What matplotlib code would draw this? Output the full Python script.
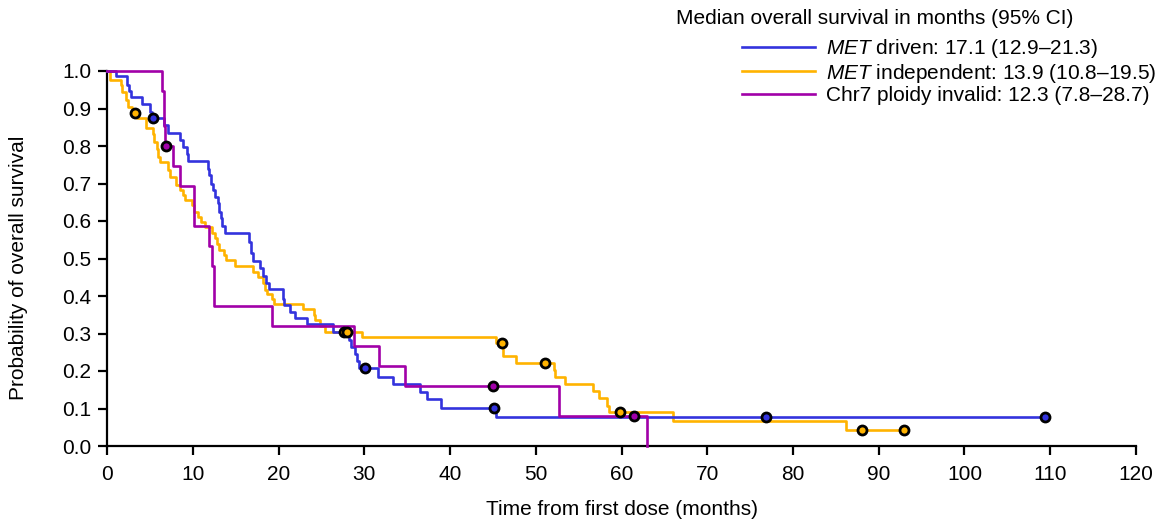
import matplotlib
matplotlib.use('Agg')
import matplotlib.pyplot as plt
from matplotlib.lines import Line2D

plt.rcParams['font.family'] = ['Liberation Sans', 'DejaVu Sans']
plt.rcParams['mathtext.fontset'] = 'custom'
plt.rcParams['mathtext.it'] = 'Liberation Sans:italic'
plt.rcParams['mathtext.rm'] = 'Liberation Sans'

# Kaplan-Meier steps (months, survival)
blue_t = [0, 1.0, 2.3, 2.55, 2.75, 4.05, 5.0, 5.3, 6.6, 7.1, 8.5, 8.9, 9.3, 9.4,
          11.74, 11.93, 12.13, 12.4, 12.6, 12.9, 13.1, 13.26, 13.4, 13.76, 16.6,
          16.8, 17.06, 17.8, 18.2, 18.5, 18.9, 20.5, 20.6, 21.3, 21.9, 23.3, 26.4,
          28.2, 28.5, 28.9, 29.2, 29.4, 31.6, 33.3, 36.5, 37.3, 39.0, 45.4, 109.4]
blue_s = [1.0, 0.987, 0.963, 0.948, 0.932, 0.912, 0.892, 0.874, 0.856, 0.836, 0.816,
          0.797, 0.78, 0.76, 0.739, 0.723, 0.70, 0.683, 0.665, 0.648, 0.625, 0.608,
          0.587, 0.569, 0.545, 0.514, 0.494, 0.475, 0.453, 0.434, 0.418, 0.392,
          0.376, 0.358, 0.341, 0.325, 0.305, 0.283, 0.265, 0.245, 0.227, 0.207,
          0.185, 0.165, 0.145, 0.125, 0.102, 0.078, 0.078]
blue_cens_t = [5.4, 30.1, 45.1, 76.8, 109.4]
blue_cens_s = [0.874, 0.207, 0.102, 0.078, 0.078]

yellow_t = [0, 0.35, 1.6, 1.7, 2.2, 2.5, 2.9, 3.5, 4.5, 5.4, 5.5, 5.8, 6.0, 6.2,
            7.15, 7.35, 8.1, 8.5, 8.9, 9.1, 9.9, 10.15, 10.65, 11.0, 11.4, 12.2,
            12.6, 12.8, 13.1, 13.6, 13.9, 14.9, 17.0, 17.6, 18.2, 18.4, 18.7, 19.3,
            19.5, 22.9, 24.1, 24.3, 24.8, 25.4, 29.7, 45.4, 46.2, 47.7, 52.1, 52.3,
            53.4, 56.7, 57.4, 58.35, 58.6, 66.0, 86.2, 92.9]
yellow_s = [1.0, 0.976, 0.963, 0.945, 0.923, 0.905, 0.889, 0.876, 0.847, 0.833,
            0.81, 0.793, 0.77, 0.758, 0.736, 0.718, 0.696, 0.683, 0.67, 0.656, 0.643,
            0.625, 0.611, 0.598, 0.585, 0.569, 0.554, 0.538, 0.523, 0.509, 0.496,
            0.48, 0.465, 0.451, 0.434, 0.416, 0.405, 0.392, 0.379, 0.365, 0.349,
            0.336, 0.32, 0.305, 0.29, 0.274, 0.241, 0.222, 0.204, 0.183, 0.165,
            0.147, 0.127, 0.107, 0.09, 0.068, 0.043, 0.043]
yellow_cens_t = [3.3, 27.6, 28.0, 46.1, 51.1, 59.8, 88.0, 92.9]
yellow_cens_s = [0.889, 0.305, 0.305, 0.274, 0.222, 0.09, 0.043, 0.043]

purple_t = [0, 6.4, 6.6, 6.75, 7.7, 8.5, 10.1, 11.9, 12.3, 12.5, 19.2, 28.8, 31.7,
            34.7, 52.7, 63.0]
purple_s = [1.0, 0.947, 0.853, 0.80, 0.747, 0.694, 0.587, 0.533, 0.48, 0.373, 0.32,
            0.267, 0.213, 0.16, 0.08, 0.0]
purple_cens_t = [6.9, 45.0, 61.4]
purple_cens_s = [0.80, 0.16, 0.08]

labels = [r'$\it{MET}$ driven: 17.1 (12.9–21.3)',
          r'$\it{MET}$ independent: 13.9 (10.8–19.5)',
          'Chr7 ploidy invalid: 12.3 (7.8–28.7)']
colors = ['#3333dd', '#ffb300', '#a100a8']

fig = plt.figure(figsize=(11.65, 5.22), dpi=100)
ax = fig.add_axes([107 / 1165, 1 - 446 / 522, (1136 - 107) / 1165, (446 - 71) / 522])

ax.step(yellow_t, yellow_s, where='post', color=colors[1], lw=1.9, clip_on=False, zorder=2)
ax.step(blue_t, blue_s, where='post', color=colors[0], lw=1.9, clip_on=False, zorder=3)
ax.step(purple_t, purple_s, where='post', color=colors[2], lw=1.9, clip_on=False, zorder=4)

for ct, cs, c in [(blue_cens_t, blue_cens_s, colors[0]),
                  (yellow_cens_t, yellow_cens_s, colors[1]),
                  (purple_cens_t, purple_cens_s, colors[2])]:
    ax.plot(ct, cs, 'o', ms=6.5, mfc=c, mec='black', mew=2.0, ls='none', zorder=5, clip_on=False)

ax.set_xlim(0, 120)
ax.set_ylim(0, 1.0)
ax.set_xticks(range(0, 121, 10))
ax.set_yticks([i / 10 for i in range(11)])
ax.set_yticklabels(['%.1f' % (i / 10) for i in range(11)])
for s in ['top', 'right']:
    ax.spines[s].set_visible(False)
for s in ['left', 'bottom']:
    ax.spines[s].set_linewidth(1.6)
ax.tick_params(direction='out', length=6.5, width=1.6, labelsize=15, pad=5)
ax.tick_params(axis='x', pad=7)
ax.set_xlabel('Time from first dose (months)', fontsize=15, labelpad=12)
ax.set_ylabel('Probability of overall survival', fontsize=15)
ax.yaxis.set_label_coords(-0.077, 0.476)

fig.text(676 / 1165, 1 - 18 / 522, 'Median overall survival in months (95% CI)',
         fontsize=15, ha='left', va='center')
handles = [Line2D([], [], color=c, lw=1.9) for c in colors]
fig.legend(handles, labels, loc='upper left', bbox_to_anchor=(742 / 1165, 1 - 37 / 522),
           frameon=False, fontsize=15, handlelength=3.5, handletextpad=0.53,
           labelspacing=0.08, borderpad=0, borderaxespad=0)

fig.savefig('out.png', dpi=100)
